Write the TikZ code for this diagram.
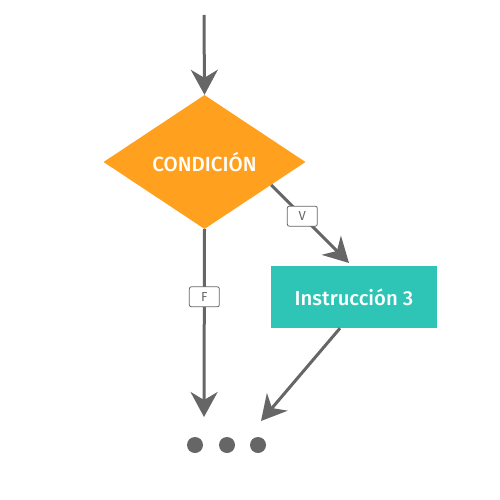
\documentclass[tikz,border=0pt]{standalone}
\usepackage{fontspec}
\setmainfont{Fira Sans}[BoldFont={Fira Sans Medium}]
\usetikzlibrary{shapes.geometric,arrows.meta,calc}
\definecolor{cond}{HTML}{FFA01E}
\definecolor{teal}{HTML}{2EC4B6}
\definecolor{conn}{HTML}{666666}
\tikzset{
  conn/.style={draw=conn,line width=3pt,-{Stealth[length=25pt,width=27pt,inset=8pt]}},
  lbl/.style={draw=conn,line width=0.8pt,fill=white,rounded corners=2pt,minimum width=30pt,minimum height=20pt,inner sep=0pt,text=conn,font=\fontsize{13}{13}\selectfont},
  dot/.style={circle,fill=conn,minimum size=16pt,inner sep=0pt}
}
\begin{document}
\begin{tikzpicture}[x=1pt,y=-1pt]
\useasboundingbox (0,0) rectangle (500,500);
\fill[white] (0,0) rectangle (500,500);
\node[diamond,fill=cond,minimum width=202pt,minimum height=134pt,aspect=1.507,inner sep=0pt,text=white,font=\fontsize{20.5}{20.5}\selectfont\bfseries] (cond) at (204.5,162) {CONDICIÓN};
\node[fill=teal,minimum width=166pt,minimum height=62pt,inner sep=0pt,text=white,font=\fontsize{20.3}{20.3}\selectfont\bfseries] (ins) at (354,297) {Instrucción 3};
\node[dot] (d1) at (195,445) {};
\node[dot] (d2) at (227,445) {};
\node[dot] (d3) at (258,445) {};
\coordinate (start) at (204,15);
\coordinate (fend) at (204,417);
\coordinate (vend) at (349,263);
\coordinate (iend) at (261,421);
\draw[conn] (start) -- (cond.north);
\draw[conn] (cond.south) -- node[lbl,pos=0.36] (f) {F} (fend);
\draw[conn] (cond.-19) -- node[lbl,pos=0.4] (v) {V} (vend);
\draw[conn] ($(ins.south)+(-14,0)$) -- (iend);
\end{tikzpicture}
\end{document}
